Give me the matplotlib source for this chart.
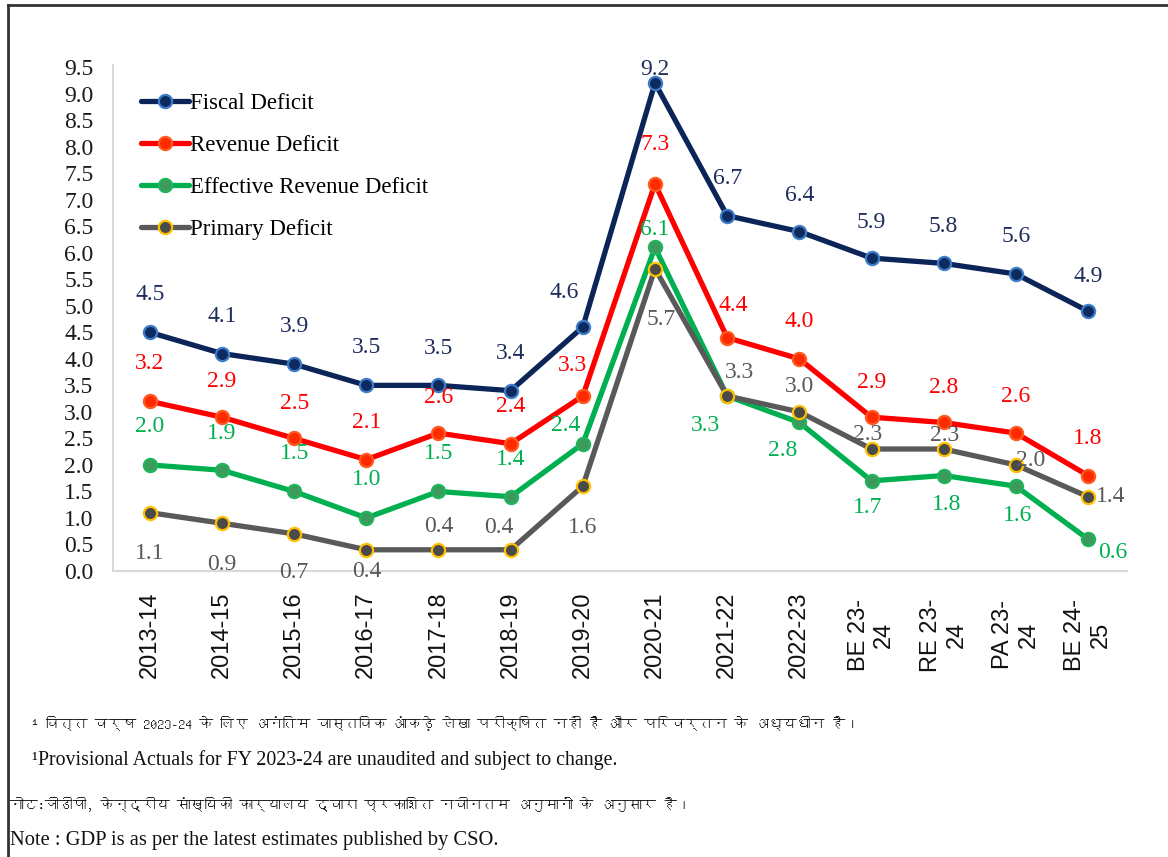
import matplotlib
matplotlib.use('Agg')
import matplotlib.pyplot as plt
from matplotlib import font_manager
from matplotlib.lines import Line2D
from matplotlib.ft2font import FT2Font

# ---------------- data ----------------
categories = ['2013-14', '2014-15', '2015-16', '2016-17', '2017-18', '2018-19',
              '2019-20', '2020-21', '2021-22', '2022-23',
              'BE 23-\n24', 'RE 23-\n24', 'PA 23-\n24', 'BE 24-\n25']
fiscal_deficit = [4.5, 4.1, 3.9, 3.5, 3.5, 3.4, 4.6, 9.2, 6.7, 6.4, 5.9, 5.8, 5.6, 4.9]
revenue_deficit = [3.2, 2.9, 2.5, 2.1, 2.6, 2.4, 3.3, 7.3, 4.4, 4.0, 2.9, 2.8, 2.6, 1.8]
effective_revenue_deficit = [2.0, 1.9, 1.5, 1.0, 1.5, 1.4, 2.4, 6.1, 3.3, 2.8, 1.7, 1.8, 1.6, 0.6]
primary_deficit = [1.1, 0.9, 0.7, 0.4, 0.4, 0.4, 1.6, 5.7, 3.3, 3.0, 2.3, 2.3, 2.0, 1.4]
series_names = ['Fiscal Deficit', 'Revenue Deficit', 'Effective Revenue Deficit', 'Primary Deficit']
y_ticks = [0.0, 0.5, 1.0, 1.5, 2.0, 2.5, 3.0, 3.5, 4.0, 4.5, 5.0, 5.5, 6.0, 6.5, 7.0, 7.5, 8.0, 8.5, 9.0, 9.5]

footnote_hi_1 = '¹ वित्त वर्ष 2023-24 के लिए अनंतिम वास्तविक आंकड़े लेखा परीक्षित नहीं हैं और परिवर्तन के अध्यधीन है।'
footnote_en_1 = '¹Provisional Actuals for FY 2023-24 are unaudited and subject to change.'
note_hi = 'नोट:जीडीपी, केन्द्रीय सांख्यिकी कार्यालय द्वारा प्रकाशित नवीनतम अनुमानों के अनुसार है।'
note_en = 'Note : GDP is as per the latest estimates published by CSO.'

# ---------------- label offsets (pixels) ----------------
fiscal_off = [(0, 38), (0, 37), (0, 38), (0, 38), (0, 37), (0, 37), (-19, 35), (0, 14),
              (0, 37), (0, 36), (0, 36), (0, 37), (0, 37), (0, 35)]
revenue_off = [(0, 38), (0, 36), (0, 35), (0, 37), (0, 36), (0, 37), (-10, 30), (0, 39),
               (6, 32), (0, 37), (0, 35), (0, 35), (0, 37), (0, 37)]
effective_off = [(0, 38), (0, 37), (0, 38), (0, 38), (0, 38), (0, 37), (-17, 18), (0, 18),
                 (-22, -30), (-17, -28), (-4, -27), (3, -29), (2, -29), (25, -13)]
primary_off = [(0, -41), (0, -41), (0, -39), (0, -22), (0, 23), (-12, 22), (0, -41), (6, -51),
               (12, 23), (0, 25), (-4, 15), (1, 14), (15, 4), (23, 0)]

# ---------------- fonts ----------------
def find_font_for(ch):
    found = []
    for f in font_manager.fontManager.ttflist:
        try:
            ft = FT2Font(f.fname)
            if ord(ch) in ft.get_charmap():
                found.append(f.name)
        except Exception:
            pass
    if not found:
        return None
    non_mono = [n for n in found if 'Mono' not in n]
    return (non_mono or found)[0]

deva = find_font_for('क')
hindi_family = ([deva] if deva else []) + ['Liberation Serif', 'DejaVu Sans']
serif = ['Liberation Serif', 'DejaVu Serif']
sans = ['Liberation Sans', 'DejaVu Sans']

# ---------------- figure ----------------
fig = plt.figure(figsize=(11.68, 8.57), dpi=100)
ax = fig.add_axes([113 / 1168, 1 - 571 / 857, (1127 - 113) / 1168, (571 - 64.5) / 857])

styles = [
    dict(color='#0B2559', mfc='#0D2B5E', mec='#3D7CC9'),
    dict(color='#FF0000', mfc='#FF2A00', mec='#FF5A1F'),
    dict(color='#00B050', mfc='#3C9A5C', mec='#1FB55A'),
    dict(color='#595959', mfc='#4A4A4A', mec='#FFC000'),
]
label_colors = ['#1F2D5C', '#FF0000', '#00B050', '#595959']
all_series = [fiscal_deficit, revenue_deficit, effective_revenue_deficit, primary_deficit]
all_offs = [fiscal_off, revenue_off, effective_off, primary_off]
x = list(range(len(categories)))

for vals, name, st in zip(all_series, series_names, styles):
    ax.plot(x, vals, color=st['color'], lw=3.8, marker='o', ms=9.5,
            mfc=st['mfc'], mec=st['mec'], mew=1.6, label=name,
            solid_joinstyle='round', solid_capstyle='round')

for vals, offs, col in zip(all_series, all_offs, label_colors):
    for i, v in enumerate(vals):
        ax.annotate(f'{v:.1f}', xy=(i, v), xytext=offs[i], textcoords='offset pixels',
                    ha='center', va='center', fontsize=17, color=col, family=serif,
                    zorder=10)

ax.set_xlim(-0.51, 13.54)
ax.set_ylim(0, 9.55)
ax.set_yticks(y_ticks)
ax.set_yticklabels([f'{t:.1f}' for t in y_ticks], family=serif, fontsize=17, color='#1a1a1a')
ax.set_xticks(x)
ax.set_xticklabels(categories, rotation=90, family=sans, fontsize=17, color='#111111',
                   multialignment='center')
for lab in ax.get_xticklabels():
    lab.set_va('center')
ax.tick_params(axis='y', length=0, pad=14)
ax.tick_params(axis='x', length=0, pad=46)

for s in ['top', 'right']:
    ax.spines[s].set_visible(False)
for s in ['left', 'bottom']:
    ax.spines[s].set_color('#D9D9D9')
    ax.spines[s].set_linewidth(1.5)

leg = ax.legend(loc='upper left', bbox_to_anchor=(141 / 1168, 1 - 93 / 857),
                bbox_transform=fig.transFigure, frameon=False, borderpad=0,
                borderaxespad=0, handlelength=2.1, handletextpad=0.05,
                labelspacing=0.92, numpoints=1, prop=dict(family=serif, size=16.5))

# footnotes
fig.text(32 / 1168, 1 - 723 / 857, footnote_hi_1, family=hindi_family, fontsize=10,
         va='center', ha='left', color='#111111')
fig.text(32 / 1168, 1 - 760 / 857, footnote_en_1, family=serif, fontsize=14.3,
         va='center', ha='left', color='#111111')
fig.text(10 / 1168, 1 - 805 / 857, note_hi, family=hindi_family, fontsize=10,
         va='center', ha='left', color='#111111')
fig.text(10 / 1168, 1 - 840 / 857, note_en, family=serif, fontsize=14.8,
         va='center', ha='left', color='#111111')

# outer frame
fig.add_artist(Line2D([8 / 1168, 1.0], [1 - 5 / 857, 1 - 5 / 857], transform=fig.transFigure,
                      color='#333333', lw=2))
fig.add_artist(Line2D([8 / 1168, 8 / 1168], [0, 1 - 5 / 857], transform=fig.transFigure,
                      color='#333333', lw=2))

fig.savefig('out.png', dpi=100)
